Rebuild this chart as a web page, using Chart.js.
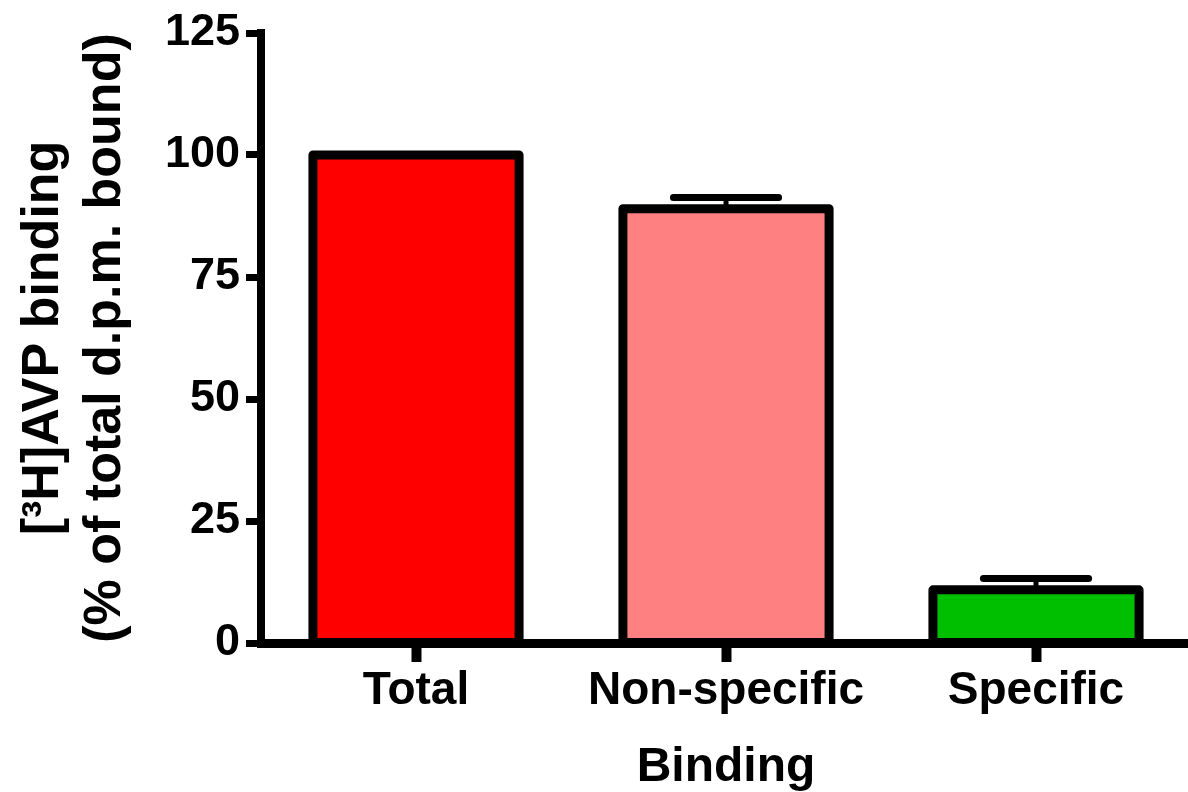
<!DOCTYPE html>
<html>
<head>
<meta charset="utf-8">
<script src="https://cdn.jsdelivr.net/npm/chart.js@4"></script>
<style>
  html, body { margin: 0; padding: 0; background: #fff; overflow: hidden; }
  #wrap { width: 1191px; height: 792px; }
</style>
</head>
<body>
<div id="wrap"><canvas id="binding-graph"></canvas></div>
<script>
const categories = ['Total', 'Non-specific', 'Specific'];
const values = [100, 89.0, 10.9];
const errors = [0, 2.3, 2.3];
const colors = ['#ff0000', '#ff8080', '#00bf00'];
const yTicks = [0, 25, 50, 75, 100, 125];

const font = 'Liberation Sans, Arial, Helvetica, sans-serif';

// outline every bar and put the upward error bar on it
const barOutline = {
    id: 'barOutline',
    afterDatasetsDraw(chart) {
        const ctx = chart.ctx;
        const yScale = chart.scales.y;
        const meta = chart.getDatasetMeta(0);
        ctx.save();
        ctx.strokeStyle = '#000';
        meta.data.forEach((bar, i) => {
            const {x, y, base, width} = bar.getProps(['x', 'y', 'base', 'width'], true);
            if (errors[i] > 0) {
                const yErr = yScale.getPixelForValue(values[i] + errors[i]);
                ctx.lineCap = 'butt';
                ctx.lineWidth = 5;
                ctx.beginPath();
                ctx.moveTo(x, y);
                ctx.lineTo(x, yErr);
                ctx.stroke();
                ctx.lineCap = 'round';
                ctx.lineWidth = 7;
                ctx.beginPath();
                ctx.moveTo(x - width * 0.255, yErr);
                ctx.lineTo(x + width * 0.255, yErr);
                ctx.stroke();
            }
            ctx.lineWidth = 9;
            ctx.lineJoin = 'round';
            ctx.strokeRect(x - width / 2, y, width, base - y);
        });
        ctx.restore();
    }
};

new Chart(document.getElementById('binding-graph'), {
    type: 'bar',
    data: {
        labels: categories,
        datasets: [{
            data: values,
            backgroundColor: colors,
            borderWidth: 0,
            barPercentage: 0.665,
            categoryPercentage: 1
        }]
    },
    options: {
        responsive: true,
        maintainAspectRatio: false,
        animation: false,
        layout: { padding: { top: 32, left: 0, right: 0, bottom: 0 } },
        plugins: {
            legend: { display: false },
            tooltip: { enabled: false }
        },
        scales: {
            x: {
                offset: true,
                grid: {
                    offset: false,
                    drawOnChartArea: false,
                    drawTicks: true,
                    tickLength: 19,
                    tickWidth: 10,
                    tickColor: '#000'
                },
                border: { display: true, color: '#000', width: 9 },
                ticks: {
                    color: '#000',
                    padding: 2,
                    maxRotation: 0,
                    font: { family: font, size: 46, weight: 'bold' }
                },
                title: {
                    display: true,
                    text: 'Binding',
                    color: '#000',
                    padding: { top: 0, bottom: 0 },
                    font: { family: font, size: 48, weight: 'bold', lineHeight: 1.0 }
                },
                afterFit(scale) { scale.height = 149; }
            },
            y: {
                min: 0,
                max: 125,
                afterBuildTicks(scale) { scale.ticks = yTicks.map(v => ({ value: v })); },
                grid: {
                    drawOnChartArea: false,
                    drawTicks: true,
                    tickLength: 15,
                    tickWidth: 7,
                    tickColor: '#000'
                },
                border: { display: true, color: '#000', width: 8 },
                ticks: {
                    color: '#000',
                    padding: 6,
                    font: { family: font, size: 45, weight: 'bold' }
                },
                title: {
                    display: true,
                    text: ['[³H]AVP binding', '(% of total d.p.m. bound)'],
                    color: '#000',
                    padding: { top: 12, bottom: 0 },
                    font: { family: font, size: 52, weight: 'bold', lineHeight: 1.2 }
                },
                afterFit(scale) { scale.width = 261; }
            }
        }
    },
    plugins: [barOutline]
});
</script>
</body>
</html>
